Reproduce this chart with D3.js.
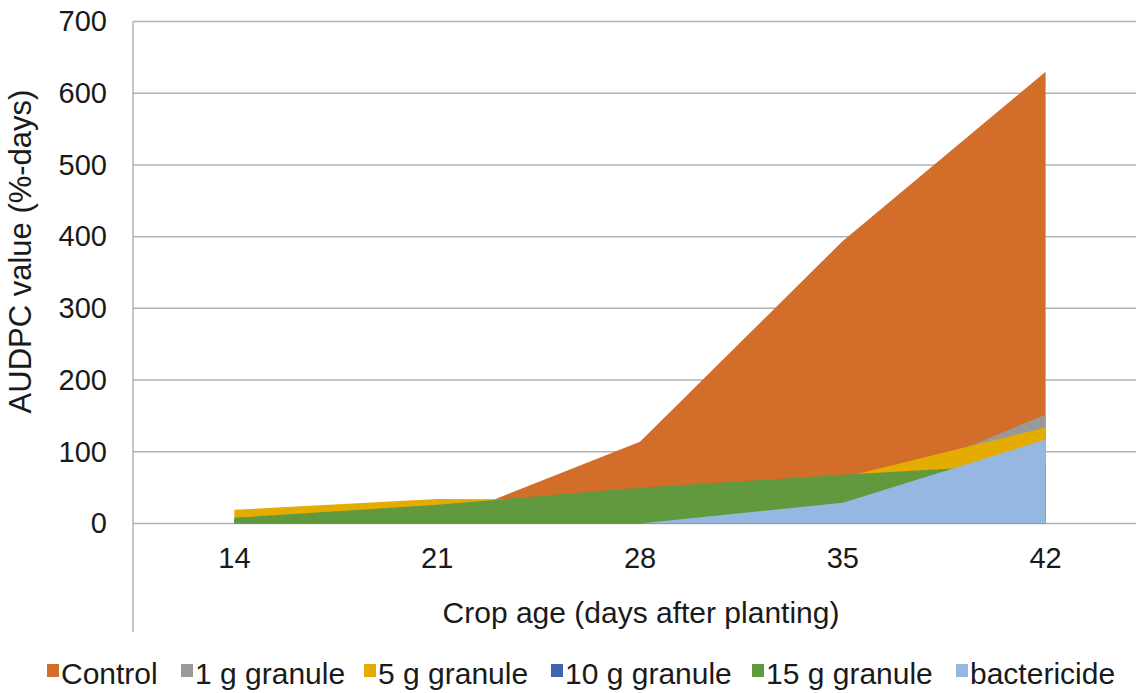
<!DOCTYPE html>
<html>
<head>
<meta charset="utf-8">
<script src="https://cdn.jsdelivr.net/npm/d3@7"></script>
<style>
  html, body { margin: 0; padding: 0; background: #fff; }
  svg { display: block; font-family: "Liberation Sans", Arial, sans-serif; }
</style>
</head>
<body>
<svg id="chart" width="1136" height="693"></svg>
<script>
// ---- data ----
const categories = ["14", "21", "28", "35", "42"];
const seriesNames = ["Control", "1 g granule", "5 g granule", "10 g granule", "15 g granule", "bactericide"];
const control     = [0, 2, 114, 394, 630];
const granule1g   = [10, 25, 30, 34, 152];
const granule5g   = [19, 34, 33, 64, 134];
const granule10g  = [6, 22, 42, 58, 80];
const granule15g  = [8, 26, 50, 68, 84];
const bactericide = [0, 0, 0, 29, 117];
const yTicks = [0, 100, 200, 300, 400, 500, 600, 700];
const colors = ["#D26D2A", "#999999", "#E4AB00", "#3F65B1", "#619A3E", "#96B8E0"];

const seriesValues = [control, granule1g, granule5g, granule10g, granule15g, bactericide];

(function () {
const svg = d3.select("#chart");
const plotLeft = 133, plotRight = 1147, plotTop = 21.5, zeroY = 523.5, axisBottom = 632;
const textColor = "#1a1a1a";

const x = d3.scaleBand().domain(categories).range([plotLeft, plotRight]).padding(0);
const y = d3.scaleLinear().domain([0, 700]).range([zeroY, plotTop]);

// gridlines
svg.append("g").selectAll("line").data(yTicks).join("line")
  .attr("x1", plotLeft).attr("x2", plotRight)
  .attr("y1", d => y(d)).attr("y2", d => y(d))
  .attr("stroke", "#B3B3B3").attr("stroke-width", 1.5);

// areas (overlapping, drawn in series order)
const area = d3.area()
  .x((d, i) => x(categories[i]) + x.bandwidth() / 2)
  .y0(y(0))
  .y1(d => y(d));

svg.append("g").selectAll("path").data(seriesValues).join("path")
  .attr("d", d => area(d))
  .attr("fill", (d, i) => colors[i]);

// vertical axis line
svg.append("line")
  .attr("x1", plotLeft).attr("x2", plotLeft)
  .attr("y1", plotTop).attr("y2", axisBottom)
  .attr("stroke", "#B3B3B3").attr("stroke-width", 1.5);

// y tick labels
const yAxis = d3.axisLeft(y).tickValues(yTicks).tickSize(0).tickPadding(26);
const gy = svg.append("g").attr("transform", `translate(${plotLeft},0)`).call(yAxis);
gy.select(".domain").remove();
gy.selectAll("text").attr("font-size", 29).attr("fill", textColor)
  .attr("font-family", "Liberation Sans, Arial, sans-serif");

// x tick labels
const xAxis = d3.axisBottom(x).tickSize(0).tickPadding(24);
const gx = svg.append("g").attr("transform", `translate(0,${zeroY})`).call(xAxis);
gx.select(".domain").remove();
gx.selectAll("text").attr("font-size", 29).attr("fill", textColor)
  .attr("font-family", "Liberation Sans, Arial, sans-serif");

// axis titles
svg.append("text")
  .attr("x", 641).attr("y", 623)
  .attr("text-anchor", "middle")
  .attr("font-size", 30).attr("fill", textColor)
  .text("Crop age (days after planting)");

svg.append("text")
  .attr("transform", "translate(31,251.5) rotate(-90)")
  .attr("text-anchor", "middle")
  .attr("font-size", 31).attr("fill", textColor)
  .text("AUDPC value (%-days)");

// legend
const legendX = [47, 181, 364, 551, 752, 956];
const lg = svg.append("g");
seriesNames.forEach((name, i) => {
  const g = lg.append("g").attr("transform", `translate(${legendX[i]},684)`);
  g.append("rect").attr("x", 0).attr("y", -20).attr("width", 12).attr("height", 13)
    .attr("fill", colors[i]);
  g.append("text").attr("x", 14).attr("y", 0)
    .attr("font-size", 30).attr("fill", textColor).text(name);
});
})();
</script>
</body>
</html>
